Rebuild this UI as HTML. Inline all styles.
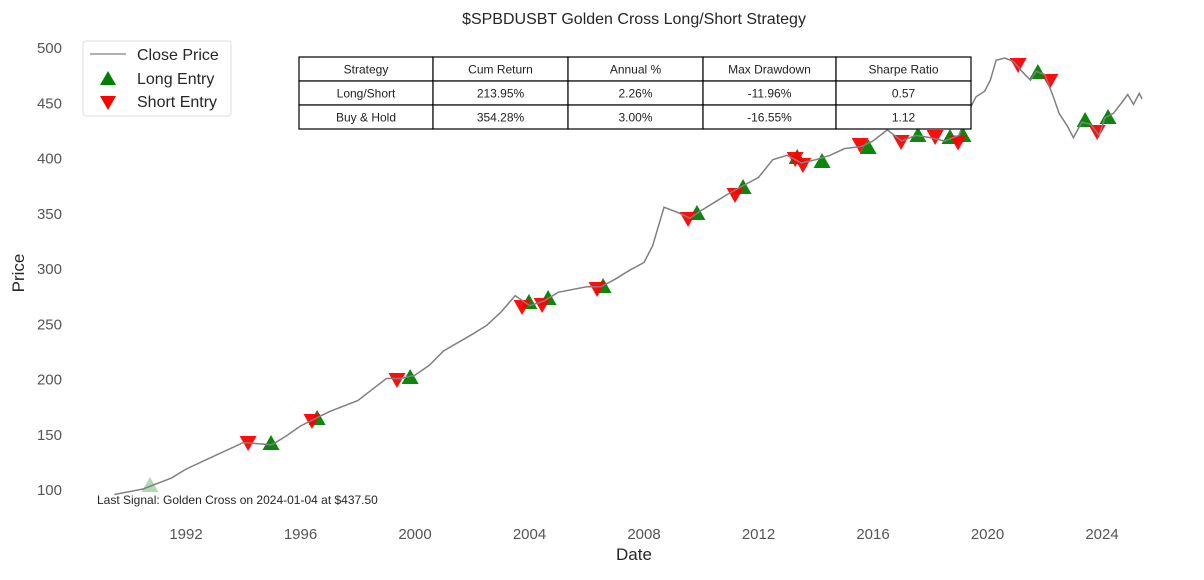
<!DOCTYPE html>
<html><head><meta charset="utf-8"><style>
body{margin:0;background:#fff;font-family:"Liberation Sans",sans-serif}
svg text{font-family:"Liberation Sans",sans-serif}
</style></head><body>
<svg width="1204" height="575" id="c">
<text x="634" y="24" text-anchor="middle" font-size="16" fill="#262626">$SPBDUSBT Golden Cross Long/Short Strategy</text>
<text x="634" y="560" text-anchor="middle" font-size="17" fill="#262626">Date</text>
<text transform="translate(24,273) rotate(-90)" text-anchor="middle" font-size="17" fill="#262626">Price</text>
<g id="ticks"></g>
<g id="markers"></g>
<g id="line"></g>
<text x="97" y="504" font-size="12" fill="#262626">Last Signal: Golden Cross on 2024-01-04 at $437.50</text>
<g>
<rect x="83" y="41" width="148" height="75" rx="3" fill="#fff" stroke="#ddd"/>
<line x1="90" y1="54" x2="126" y2="54" stroke="#808080" stroke-width="1.3"/>
<text x="137" y="60" font-size="16" fill="#262626">Close Price</text>
<polygon points="108,71 100,85 116,85" fill="green"/>
<text x="137" y="84" font-size="16" fill="#262626">Long Entry</text>
<polygon points="100,96 116,96 108,110" fill="red"/>
<text x="137" y="107" font-size="16" fill="#262626">Short Entry</text>
</g>
<g id="table"></g>
</svg>
<script>
const yTicks=[100,150,200,250,300,350,400,450,500];
const xTicks=[1992,1996,2000,2004,2008,2012,2016,2020,2024];
const priceYears=[1989.5,1990.5,1991.5,1992,1993,1994,1995,1995.5,1996,1997,1998,1998.5,1999,1999.5,2000,2000.5,2001,2002,2002.5,2003,2003.5,2004,2004.5,2005,2006,2006.5,2007,2007.5,2008,2008.3,2008.7,2009.2,2009.6,2010,2010.5,2011,2011.5,2012,2012.5,2013,2013.5,2014,2014.5,2015,2015.6,2016,2016.5,2017,2017.5,2018,2018.5,2019,2019.3,2019.6,2019.9,2020.1,2020.3,2020.6,2020.9,2021.2,2021.5,2021.7,2022.0,2022.3,2022.5,2022.8,2023.0,2023.3,2023.6,2023.9,2024.1,2024.4,2024.7,2024.9,2025.1,2025.3,2025.4];
const priceValues=[95,100,110,118,130,142,140,148,157,170,180,190,200,200,203,212,225,240,248,260,275,266,270,278,283,283,290,298,305,320,355,350,345,352,360,368,375,382,398,402,395,398,402,408,410,415,425,415,420,418,415,420,440,455,460,470,488,490,487,478,470,478,475,455,440,428,418,432,430,420,436,440,450,457,448,458,453];
const longYears=[1990.74,1994.97,1996.58,1999.83,2003.98,2004.65,2006.57,2009.85,2011.46,2013.35,2014.22,2015.83,2017.57,2018.69,2019.14,2021.76,2023.41,2024.21];
const longPrices=[103.6,141.6,164.3,201.4,269.2,272.9,283.7,349.8,373.3,400.5,396.8,409.5,420.4,418.6,420.4,477.4,433.9,436.6];
const shortYears=[1994.17,1996.40,1999.37,2003.74,2004.44,2006.36,2009.54,2011.18,2013.28,2013.55,2015.55,2016.98,2018.17,2018.97,2021.07,2022.18,2023.83];
const shortPrices=[141.6,161.5,198.6,264.7,266.5,281,344.3,366.1,398.6,393.2,411.3,414,418.6,413.6,483.7,469.2,423.1];
const tableRows=[["Strategy","Cum Return","Annual %","Max Drawdown","Sharpe Ratio"],["Long/Short","213.95%","2.26%","-11.96%","0.57"],["Buy & Hold","354.28%","3.00%","-16.55%","1.12"]];
const NS="http://www.w3.org/2000/svg";
const X=y=>186+(y-1992)*28.625, Y=p=>47+(500-p)*1.105;
function mk(t,a,parent){const e=document.createElementNS(NS,t);for(const k in a)e.setAttribute(k,a[k]);parent.appendChild(e);return e;}
const tk=document.getElementById('ticks');
yTicks.forEach(v=>{const e=mk('text',{x:62,y:Y(v)+6,'text-anchor':'end','font-size':15,fill:'#555'},tk);e.textContent=v;

});
xTicks.forEach(v=>{const e=mk('text',{x:X(v),y:539,'text-anchor':'middle','font-size':15,fill:'#555'},tk);e.textContent=v;

});
const mg=document.getElementById('markers');
longYears.forEach((yr,i)=>{const x=X(yr),y=Y(longPrices[i]);const e=mk('polygon',{points:`${x},${y-8} ${x-8.5},${y+7} ${x+8.5},${y+7}`,fill:'green','fill-opacity':i==0?0.3:0.95},mg);

});
shortYears.forEach((yr,i)=>{const x=X(yr),y=Y(shortPrices[i]);const e=mk('polygon',{points:`${x-8.5},${y-7} ${x+8.5},${y-7} ${x},${y+8}`,fill:'red','fill-opacity':0.95},mg);

});
const pl=mk('polyline',{points:priceYears.map((yr,i)=>X(yr)+','+Y(priceValues[i])).join(' '),fill:'none',stroke:'#808080','stroke-width':1.5},document.getElementById('line'));


const tb=document.getElementById('table');const cx=[299,433,568,703,836,971];
tableRows.forEach((r,ri)=>r.forEach((c,ci)=>{mk('rect',{x:cx[ci],y:57+ri*24,width:cx[ci+1]-cx[ci],height:24,fill:'#fff',stroke:'#000','stroke-width':1.2},tb);
const t=mk('text',{x:(cx[ci]+cx[ci+1])/2,y:57+ri*24+16.5,'text-anchor':'middle','font-size':12,fill:'#222'},tb);t.textContent=c;

}));
</script>
</body></html>
